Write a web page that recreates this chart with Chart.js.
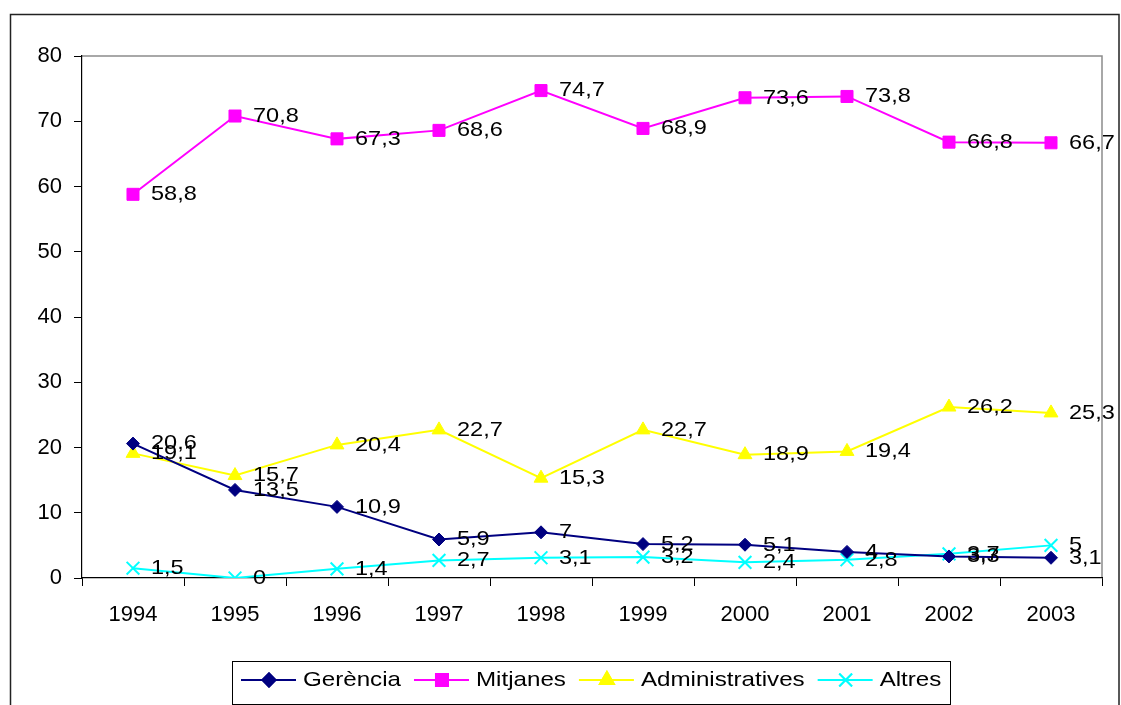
<!DOCTYPE html>
<html>
<head>
<meta charset="utf-8">
<script src="https://cdn.jsdelivr.net/npm/chart.js@4/dist/chart.umd.min.js"></script>
<style>
  html, body { margin: 0; padding: 0; background: #fff; }
  #wrap { width: 1121px; height: 705px; position: relative; }
</style>
</head>
<body>
<div id="wrap"><canvas id="chart"></canvas></div>
<script>
var years = ['1994', '1995', '1996', '1997', '1998', '1999', '2000', '2001', '2002', '2003'];
var gerencia = [20.6, 13.5, 10.9, 5.9, 7, 5.2, 5.1, 4, 3.3, 3.1];
var mitjanes = [58.8, 70.8, 67.3, 68.6, 74.7, 68.9, 73.6, 73.8, 66.8, 66.7];
var administratives = [19.1, 15.7, 20.4, 22.7, 15.3, 22.7, 18.9, 19.4, 26.2, 25.3];
var altres = [1.5, 0, 1.4, 2.7, 3.1, 3.2, 2.4, 2.8, 3.7, 5];
var yTicks = [0, 10, 20, 30, 40, 50, 60, 70, 80];

var FONT = '"Liberation Sans", Arial, sans-serif';

function fmt(v) {
    return String(v).replace('.', ',');
}

// the original text is a bit wider than Arial, so stretch it sideways
function wideText(c, text, x, y, sx) {
    c.save();
    c.translate(x, y);
    c.scale(sx, 1);
    c.fillText(text, 0, 0);
    c.restore();
    return c.measureText(text).width * sx;
}

// frame round the whole chart and the grey box round the plot
var framePlugin = {
    id: 'frame',
    beforeDraw: function(chart) {
        var c = chart.ctx, a = chart.chartArea;
        c.save();
        c.strokeStyle = '#222';
        c.lineWidth = 1.5;
        c.strokeRect(10.5, 14.5, 1108.5, 800);
        c.strokeStyle = '#8c8c8c';
        c.lineWidth = 1.5;
        c.beginPath();
        c.moveTo(a.left, a.top);
        c.lineTo(a.right, a.top);
        c.lineTo(a.right, a.bottom);
        c.stroke();
        c.restore();
    }
};

// value labels to the right of every point
var labelPlugin = {
    id: 'valueLabels',
    afterDatasetsDraw: function(chart) {
        var c = chart.ctx;
        c.save();
        c.font = '21px ' + FONT;
        c.fillStyle = '#000';
        c.textAlign = 'left';
        c.textBaseline = 'middle';
        chart.data.datasets.forEach(function(ds, i) {
            chart.getDatasetMeta(i).data.forEach(function(pt, j) {
                wideText(c, fmt(ds.data[j]), pt.x + 18, pt.y, 1.12);
            });
        });
        c.restore();
    }
};

// legend box under the chart
var legendPlugin = {
    id: 'boxLegend',
    afterDraw: function(chart) {
        var c = chart.ctx;
        var left = 232, right = 950, top = 661, bottom = 704, cy = 680;
        c.save();
        c.strokeStyle = '#000';
        c.lineWidth = 1;
        c.strokeRect(left + 0.5, top + 0.5, right - left, bottom - top);
        c.font = '21px ' + FONT;
        c.textBaseline = 'middle';
        c.textAlign = 'left';
        var x = 241;
        chart.data.datasets.forEach(function(ds) {
            c.strokeStyle = ds.borderColor;
            c.lineWidth = 2;
            c.beginPath();
            c.moveTo(x, cy);
            c.lineTo(x + 55, cy);
            c.stroke();
            Chart.helpers.drawPoint(c, {
                pointStyle: ds.pointStyle,
                radius: ds.pointRadius,
                borderWidth: ds.pointBorderWidth || 1
            }, x + 28, cy);
            c.fillStyle = ds.pointBackgroundColor;
            c.strokeStyle = ds.pointBorderColor;
            c.fill();
            c.stroke();
            c.fillStyle = '#000';
            var w = wideText(c, ds.label, x + 62, cy, 1.15);
            x += 62 + w + 13;
        });
        c.restore();
    }
};

function series(label, data, color, style, radius, bw) {
    return {
        label: label,
        data: data,
        borderColor: color,
        backgroundColor: color,
        borderWidth: 2,
        pointStyle: style,
        pointRadius: radius,
        pointHoverRadius: radius,
        pointBackgroundColor: color,
        pointBorderColor: color,
        pointBorderWidth: bw,
        tension: 0,
        fill: false
    };
}

var chart = new Chart(document.getElementById('chart'), {
    type: 'line',
    data: {
        labels: years,
        datasets: [
            series('Gerència', gerencia, '#000080', 'rectRot', 6.5, 1),
            series('Mitjanes', mitjanes, '#ff00ff', 'rect', 8.5, 1),
            series('Administratives', administratives, '#ffff00', 'triangle', 8, 1),
            series('Altres', altres, '#00ffff', 'crossRot', 9, 2)
        ]
    },
    options: {
        responsive: true,
        maintainAspectRatio: false,
        animation: false,
        layout: { padding: { left: 0, top: 56, right: 19, bottom: 0 } },
        plugins: {
            legend: { display: false },
            tooltip: { enabled: false }
        },
        scales: {
            x: {
                offset: true,
                grid: { display: true, drawOnChartArea: false, drawTicks: true, tickLength: 8, color: '#000', offset: true },
                border: { display: true, color: '#000', width: 1.2 },
                ticks: { color: '#000', font: { size: 22, family: FONT }, padding: 16, maxRotation: 0 },
                afterFit: function(s) { s.height = 127; }
            },
            y: {
                min: 0,
                max: 80,
                afterBuildTicks: function(s) {
                    s.ticks = yTicks.map(function(v) { return { value: v }; });
                },
                grid: { display: true, drawOnChartArea: false, drawTicks: true, tickLength: 8, color: '#000' },
                border: { display: true, color: '#000', width: 1.2 },
                ticks: { color: '#000', font: { size: 22, family: FONT }, padding: 12 },
                afterFit: function(s) { s.width = 82; }
            }
        }
    },
    plugins: [framePlugin, labelPlugin, legendPlugin]
});
</script>
</body>
</html>
